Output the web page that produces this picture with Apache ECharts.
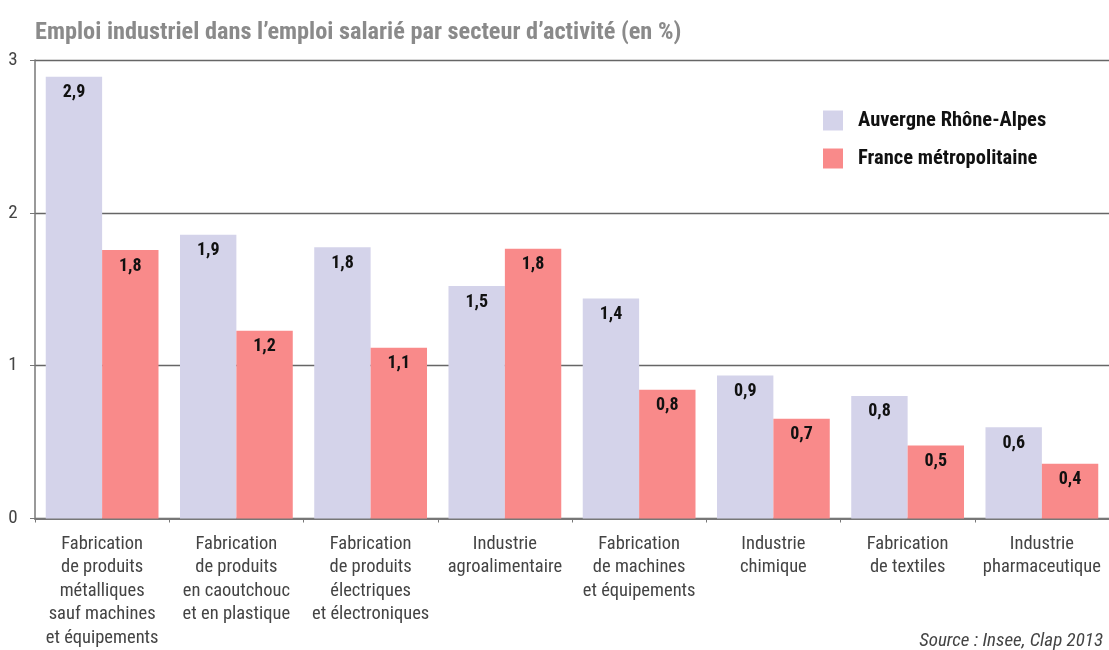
<!DOCTYPE html>
<html>
<head>
<meta charset="utf-8">
<script src="https://cdn.jsdelivr.net/npm/echarts@6/dist/echarts.min.js"></script>
<style>
html,body{margin:0;padding:0;background:#fff;}
#chart{width:1109px;height:650px;}
</style>
</head>
<body>
<div id="chart"></div>
<script>
const categories = [
  "Fabrication\nde produits\nmétalliques\nsauf machines\net équipements",
  "Fabrication\nde produits\nen caoutchouc\net en plastique",
  "Fabrication\nde produits\nélectriques\net électroniques",
  "Industrie\nagroalimentaire",
  "Fabrication\nde machines\net équipements",
  "Industrie\nchimique",
  "Fabrication\nde textiles",
  "Industrie\npharmaceutique"
];
const auvergneRhoneAlpes = [2.89, 1.856, 1.774, 1.521, 1.44, 0.935, 0.802, 0.597];
const franceMetropolitaine = [1.756, 1.229, 1.118, 1.765, 0.843, 0.652, 0.477, 0.358];
const yTicks = [0, 1, 2, 3];
const seriesNames = ["Auvergne Rhône-Alpes", "France métropolitaine"];

const FONT = '"Liberation Sans Narrow", "Roboto Condensed", "Arial Narrow", "Liberation Sans", sans-serif';
const chart = echarts.init(document.getElementById('chart'), null, {renderer: 'canvas'});

const labelCfg = {
  show: true,
  position: 'insideTop',
  distance: 7,
  color: '#111',
  fontFamily: FONT,
  fontWeight: 'bold',
  fontSize: 18,
  formatter: p => p.value.toFixed(1).replace('.', ',')
};

chart.setOption({
  animation: false,
  backgroundColor: '#fff',
  title: {
    text: "Emploi industriel dans l\u2019emploi salarié par secteur d\u2019activité (en %)",
    left: 30, top: 16,
    textStyle: {color: '#8a8a8a', fontFamily: FONT, fontWeight: 'bold', fontSize: 24.3}
  },
  legend: {
    orient: 'vertical',
    left: 818, top: 105,
    itemWidth: 20, itemHeight: 20, itemGap: 17,
    icon: 'rect',
    data: seriesNames,
    textStyle: {color: '#111', fontFamily: FONT, fontWeight: 'bold', fontSize: 20.5, padding: [0, 0, 0, 10]}
  },
  grid: {left: 35, right: -6, top: 60, bottom: 131, containLabel: false},
  xAxis: {
    type: 'category',
    data: categories,
    axisLine: {lineStyle: {color: '#777', width: 2}},
    axisTick: {show: true, length: 4, lineStyle: {color: '#777'}},
    axisLabel: {color: '#444', fontFamily: FONT, fontSize: 18.5, lineHeight: 23.5, margin: 14, interval: 0}
  },
  yAxis: {
    type: 'value',
    min: yTicks[0], max: yTicks[yTicks.length - 1], interval: 1,
    axisLine: {show: true, lineStyle: {color: '#777', width: 1.5}},
    axisTick: {show: true, length: 5, lineStyle: {color: '#777'}},
    axisLabel: {color: '#444', fontFamily: FONT, fontSize: 19, margin: 22, align: 'center'},
    splitLine: {show: true, lineStyle: {color: '#666', width: 1.3}}
  },
  series: [
    {
      name: seriesNames[0], type: 'bar', data: auvergneRhoneAlpes,
      barGap: '0%', barCategoryGap: '16%',
      itemStyle: {color: '#d4d3ea'},
      label: labelCfg
    },
    {
      name: seriesNames[1], type: 'bar', data: franceMetropolitaine,
      itemStyle: {color: '#f98a8a'},
      label: labelCfg
    }
  ],
  graphic: [{
    type: 'text',
    right: 6, top: 632,
    style: {text: 'Source : Insee, Clap 2013', fill: '#444', font: 'italic 19px ' + FONT, textAlign: 'right'}
  }]
});
</script>
</body>
</html>
